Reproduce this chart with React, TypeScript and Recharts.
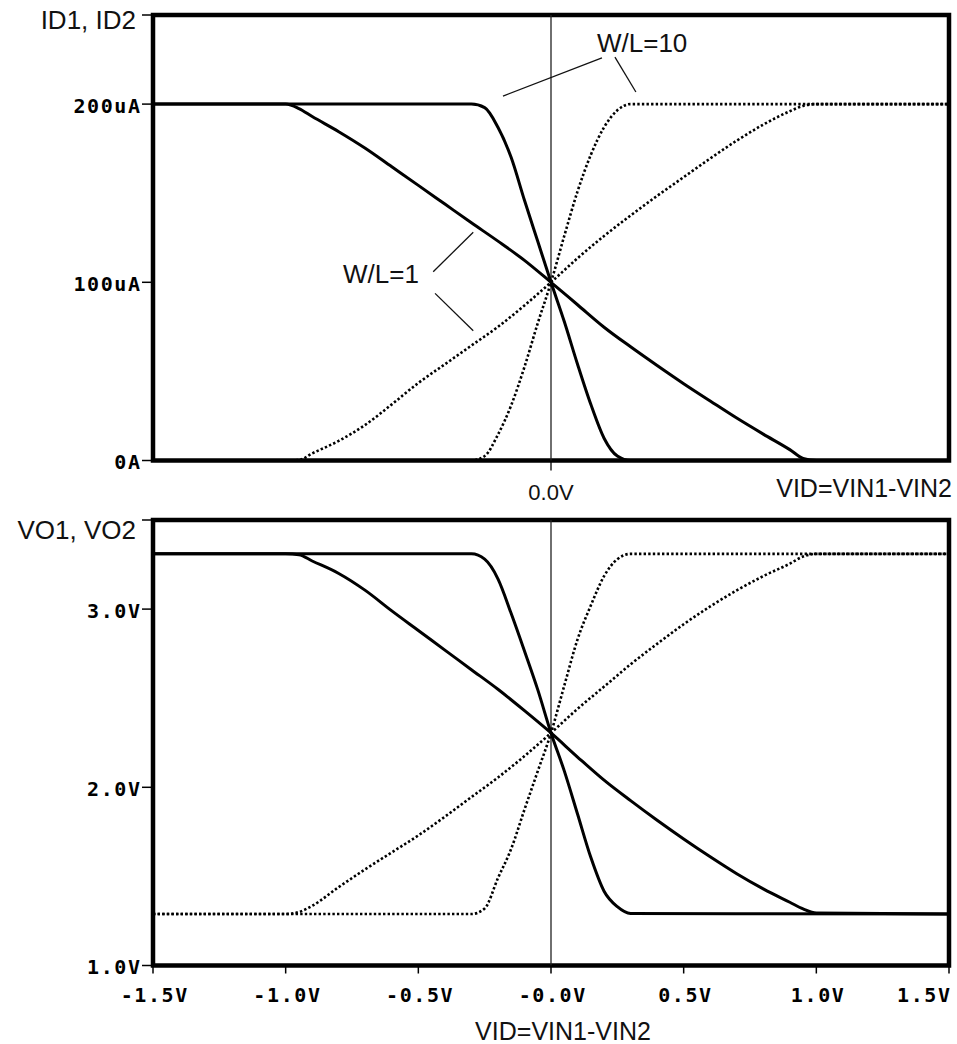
import React from "react";
import { LineChart, Line, XAxis, YAxis, ReferenceArea, ReferenceLine } from "recharts";

// VID sweep points (V), coarse grid for W/L=1, fine grid for W/L=10
const vidWide = [-1.5, -1.0, -0.95, -0.9, -0.8, -0.7, -0.6, -0.5, -0.4, -0.3, -0.2, -0.1, 0, 0.1, 0.2, 0.3, 0.4, 0.5, 0.6, 0.7, 0.8, 0.9, 0.95, 1.0, 1.5];
const vidNarrow = [-1.5, -0.3, -0.25, -0.2, -0.15, -0.1, -0.05, 0, 0.05, 0.1, 0.15, 0.2, 0.25, 0.3, 1.5];

// drain currents (uA)
const idSolidWL1 = [200, 200, 197.5, 193, 184.5, 175.2, 164.8, 154.4, 143.9, 133.4, 123.1, 112.3, 100, 87.4, 74.8, 63.8, 53.3, 43.1, 33.4, 23.8, 14.8, 6.1, 1.2, 0, 0];
const idDotWL1 = [0, 0, 0.3, 4, 11, 20, 31.5, 43.5, 54, 64.5, 75, 87, 100, 113.5, 126, 137.5, 148.5, 159, 169.5, 179.5, 188.5, 196, 199, 200, 200];
const idSolidWL10 = [200, 200, 198, 187, 170, 146, 123, 100, 78, 54, 31.5, 12.5, 2.5, 0, 0];
const idDotWL10 = [0, 0, 2.5, 14.5, 31, 52.5, 77, 100, 126, 151, 171.5, 187, 196.5, 200, 200];

// output voltages (V)
const voSolidWL1 = [3.31, 3.31, 3.305, 3.27, 3.2, 3.105, 2.99, 2.88, 2.77, 2.66, 2.55, 2.43, 2.305, 2.17, 2.04, 1.925, 1.815, 1.71, 1.61, 1.515, 1.43, 1.355, 1.318, 1.295, 1.289];
const voDotWL1 = [1.289, 1.289, 1.3, 1.335, 1.44, 1.54, 1.635, 1.73, 1.835, 1.945, 2.055, 2.175, 2.305, 2.44, 2.565, 2.69, 2.805, 2.915, 3.015, 3.105, 3.185, 3.255, 3.295, 3.31, 3.31];
const voSolidWL10 = [3.31, 3.31, 3.28, 3.17, 2.975, 2.765, 2.548, 2.305, 2.092, 1.85, 1.607, 1.417, 1.33, 1.292, 1.289];
const voDotWL10 = [1.289, 1.289, 1.32, 1.49, 1.655, 1.875, 2.09, 2.305, 2.57, 2.83, 3.02, 3.185, 3.28, 3.31, 3.31];

const xTicks = [-1.5, -1.0, -0.5, 0, 0.5, 1.0, 1.5];
const xTickLabels = ["-1.5V", "-1.0V", "-0.5V", "-0.0V", "0.5V", "1.0V", "1.5V"];
const idTicks = [0, 100, 200, 250];
const idTickLabels = ["0A", "100uA", "200uA", "ID1, ID2"];
const voTicks = [1, 2, 3, 3.5];
const voTickLabels = ["1.0V", "2.0V", "3.0V", "VO1, VO2"];

const zip = (xs: number[], ys: number[]) => xs.map((x, i) => ({ x, y: ys[i] }));

const MONO = '"DejaVu Sans Mono", monospace';
const SANS = '"Liberation Sans", Arial, sans-serif';
const INK = "#111";
const SPACING = 1.6;

const makeYTick = (ticks: number[], labels: string[]) => (props: any) => {
  const { x, y, payload } = props;
  const i = ticks.indexOf(payload.value);
  const text = labels[i];
  if (i === ticks.length - 1) {
    // axis name sits on the top tick
    const base = y < 30 ? 28.5 : y + 10.5;
    return (
      <text x={x - 4} y={base} textAnchor="end" fontFamily={SANS} fontSize={26} fill={INK}>
        {text}
      </text>
    );
  }
  return (
    <text
      x={x + SPACING}
      y={y + 8.5}
      textAnchor="end"
      fontFamily={MONO}
      fontWeight="bold"
      fontSize={20}
      style={{ letterSpacing: SPACING }}
      fill="#000"
    >
      {text}
    </text>
  );
};

const BottomXTick = (props: any) => {
  const { x, y, payload } = props;
  const i = xTicks.indexOf(payload.value);
  const last = i === xTicks.length - 1;
  return (
    <text
      x={last ? x + 1 + SPACING : x + 1 + SPACING / 2}
      y={y + 26}
      textAnchor={last ? "end" : "middle"}
      fontFamily={MONO}
      fontWeight="bold"
      fontSize={20}
      style={{ letterSpacing: SPACING }}
      fill="#000"
    >
      {xTickLabels[i]}
    </text>
  );
};

const TopXTick = (props: any) => {
  const { x, y } = props;
  return (
    <text x={x} y={y + 27.5} textAnchor="middle" fontFamily={SANS} fontSize={22} fill={INK}>
      0.0V
    </text>
  );
};

const solid = { stroke: "#000", strokeWidth: 3, dot: false, isAnimationActive: false, type: "monotone" as const };
const dotted = { stroke: "#000", strokeWidth: 2.6, strokeDasharray: "2.4 2.2", dot: false, isAnimationActive: false, type: "monotone" as const };

export default function App() {
  return (
    <div style={{ position: "absolute", left: 0, top: 0, width: 957, height: 1044, background: "#fff" }}>
      <div style={{ position: "absolute", left: 0, top: 0 }}>
        <LineChart width={957} height={510} margin={{ top: 15, right: 8, bottom: 9.5, left: 93 }}>
          <XAxis
            dataKey="x"
            type="number"
            domain={[-1.5, 1.5]}
            ticks={[0]}
            height={40}
            axisLine={false}
            tickSize={10}
            tickMargin={2}
            tickLine={{ stroke: "#000", strokeWidth: 1.3 }}
            tick={<TopXTick />}
            allowDataOverflow
          />
          <YAxis
            type="number"
            domain={[0, 250]}
            ticks={idTicks}
            width={60}
            axisLine={false}
            tickSize={11}
            tickMargin={2}
            tickLine={{ stroke: "#000", strokeWidth: 1.5 }}
            tick={makeYTick(idTicks, idTickLabels)}
            interval={0}
            allowDataOverflow
          />
          <ReferenceLine x={0} stroke="#222" strokeWidth={1.3} />
          <Line data={zip(vidWide, idSolidWL1)} dataKey="y" {...solid} />
          <Line data={zip(vidWide, idDotWL1)} dataKey="y" {...dotted} />
          <Line data={zip(vidNarrow, idSolidWL10)} dataKey="y" {...solid} />
          <Line data={zip(vidNarrow, idDotWL10)} dataKey="y" {...dotted} />
          <ReferenceLine segment={[{ x: -0.181, y: 204.5 }, { x: 0.192, y: 225.9 }]} stroke={INK} strokeWidth={1.3} ifOverflow="visible" />
          <ReferenceLine segment={[{ x: 0.241, y: 226.4 }, { x: 0.32, y: 206.8 }]} stroke={INK} strokeWidth={1.3} ifOverflow="visible" />
          <ReferenceLine segment={[{ x: -0.444, y: 105.9 }, { x: -0.293, y: 128.1 }]} stroke={INK} strokeWidth={1.3} ifOverflow="visible" />
          <ReferenceLine segment={[{ x: -0.437, y: 93.8 }, { x: -0.293, y: 72.8 }]} stroke={INK} strokeWidth={1.3} ifOverflow="visible" />
          <ReferenceArea x1={-1.5} x2={1.5} y1={0} y2={250} fill="none" stroke="#000" strokeWidth={4.5} ifOverflow="visible" />
        </LineChart>
      </div>
      <div style={{ position: "absolute", left: 0, top: 510 }}>
        <LineChart width={957} height={506} margin={{ top: 10, right: 8, bottom: 0.5, left: 93 }}>
          <XAxis
            dataKey="x"
            type="number"
            domain={[-1.5, 1.5]}
            ticks={xTicks}
            interval={0}
            height={50}
            axisLine={false}
            tickSize={8}
            tickMargin={2}
            tickLine={{ stroke: "#000", strokeWidth: 1.5 }}
            tick={<BottomXTick />}
            allowDataOverflow
          />
          <YAxis
            type="number"
            domain={[1, 3.5]}
            ticks={voTicks}
            width={60}
            axisLine={false}
            tickSize={11}
            tickMargin={2}
            tickLine={{ stroke: "#000", strokeWidth: 1.5 }}
            tick={makeYTick(voTicks, voTickLabels)}
            interval={0}
            allowDataOverflow
          />
          <ReferenceLine x={0} stroke="#222" strokeWidth={1.3} />
          <Line data={zip(vidWide, voSolidWL1)} dataKey="y" {...solid} />
          <Line data={zip(vidWide, voDotWL1)} dataKey="y" {...dotted} />
          <Line data={zip(vidNarrow, voSolidWL10)} dataKey="y" {...solid} />
          <Line data={zip(vidNarrow, voDotWL10)} dataKey="y" {...dotted} />
          <ReferenceArea x1={-1.5} x2={1.5} y1={1} y2={3.5} fill="none" stroke="#000" strokeWidth={4.5} ifOverflow="visible" />
        </LineChart>
      </div>
      <svg width={957} height={1044} style={{ position: "absolute", left: 0, top: 0, pointerEvents: "none" }}>
        <text x={952} y={496.5} textAnchor="end" fontFamily={SANS} fontSize={25} fill={INK}>
          VID=VIN1-VIN2
        </text>
        <text x={563} y={1040} textAnchor="middle" fontFamily={SANS} fontSize={25} fill={INK}>
          VID=VIN1-VIN2
        </text>
        <text x={597} y={51.5} fontFamily={SANS} fontSize={26} fill={INK}>
          W/L=10
        </text>
        <text x={343} y={282.5} fontFamily={SANS} fontSize={26} fill={INK}>
          W/L=1
        </text>
      </svg>
    </div>
  );
}
